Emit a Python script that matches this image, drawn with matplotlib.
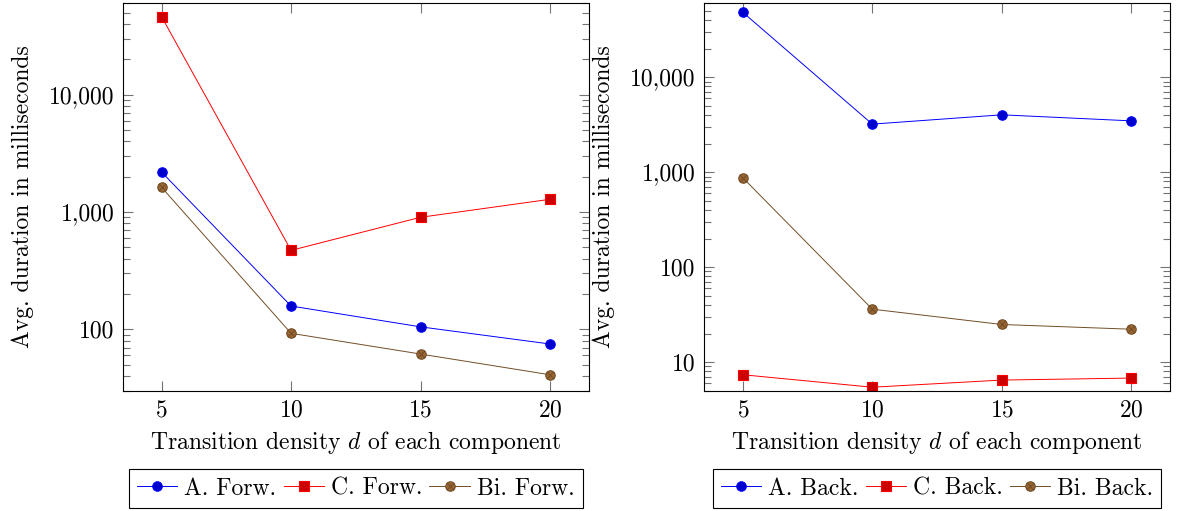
import numpy as np
import matplotlib
matplotlib.use("Agg")
import matplotlib.pyplot as plt
from matplotlib.path import Path
from matplotlib.ticker import FixedLocator, LogLocator, FuncFormatter, NullFormatter

# ---- data ----
densities = [5, 10, 15, 20]

a_forw = [2190, 158, 105, 75]
c_forw = [46200, 471, 901, 1283]
bi_forw = [1624, 92.5, 61.6, 41]

a_back = [48200, 3206, 4017, 3470]
c_back = [7.36, 5.44, 6.47, 6.79]
bi_back = [873, 36.1, 24.9, 22.2]

left_labels = ["A. Forw.", "C. Forw.", "Bi. Forw."]
right_labels = ["A. Back.", "C. Back.", "Bi. Back."]
xlabel = "Transition density $d$ of each component"
ylabel = "Avg. duration in milliseconds"

# ---- style ----
plt.rcParams["font.family"] = ["cmr10"]
plt.rcParams["mathtext.fontset"] = "cm"
plt.rcParams["axes.formatter.use_mathtext"] = True
plt.rcParams["axes.unicode_minus"] = False

FS = 17
LW = 0.7
MS = 6.8

# otimes marker: circle + cross
circ = Path.unit_circle()
d = np.sqrt(0.5)
cross = Path([(-d, -d), (d, d), (-d, d), (d, -d)],
             [Path.MOVETO, Path.LINETO, Path.MOVETO, Path.LINETO])
otimes = Path.make_compound_path(circ, cross)

styles = [
    dict(color="#0000ff", marker="o", markerfacecolor="#0000cc", markeredgecolor="#0000ff"),
    dict(color="#ff0000", marker="s", markerfacecolor="#cc0000", markeredgecolor="#ff0000"),
    dict(color="#734d26", marker=otimes, markerfacecolor="#996633", markeredgecolor="#734d26"),
]

fig = plt.figure(figsize=(11.81, 5.11), dpi=100)

H = 511.0
W = 1181.0
bottom = 1 - 390.7 / H
height = (390.7 - 3.3) / H
ax1 = fig.add_axes([122.7 / W, bottom, 466.2 / W, height])
ax2 = fig.add_axes([704.0 / W, bottom, 466.0 / W, height])


def fmt(v, pos):
    return "{:,.0f}".format(v)


def setup(ax, series, labels, ylim, majors):
    for s, lab, st in zip(series, labels, styles):
        ax.plot(densities, s, label=lab, linewidth=LW, markersize=MS,
                markeredgewidth=0.8, **st)
    ax.set_yscale("log")
    ax.set_xlim(3.5, 21.5)
    ax.set_ylim(*ylim)
    ax.xaxis.set_major_locator(FixedLocator(densities))
    ax.yaxis.set_major_locator(FixedLocator(majors))
    ax.yaxis.set_minor_locator(LogLocator(base=10, subs=np.arange(2, 10)))
    ax.yaxis.set_major_formatter(FuncFormatter(fmt))
    ax.yaxis.set_minor_formatter(NullFormatter())
    ax.tick_params(which="both", direction="in", top=True, right=True,
                   color="0.45", width=0.8, labelsize=FS, pad=6)
    ax.tick_params(which="major", length=7.2)
    ax.tick_params(which="minor", length=4.8)
    for sp in ax.spines.values():
        sp.set_linewidth(0.8)
        sp.set_color("black")
    ax.set_xlabel(xlabel, fontsize=FS, labelpad=6)
    ax.set_ylabel(ylabel, fontsize=FS, labelpad=11)
    leg = ax.legend(loc="center", bbox_to_anchor=(0.5, (0.044 * H - bottom * H) / (height * H)),
                    bbox_transform=ax.transAxes, ncol=3, fontsize=FS, frameon=True,
                    fancybox=False, edgecolor="black", framealpha=1,
                    handlelength=1.7, handletextpad=0.3, columnspacing=0.3,
                    borderpad=0.35, borderaxespad=0)
    leg.get_frame().set_linewidth(0.8)


setup(ax1, [a_forw, c_forw, bi_forw], left_labels, (30, 60000), [100, 1000, 10000])
setup(ax2, [a_back, c_back, bi_back], right_labels, (5, 60000), [10, 100, 1000, 10000])

fig.savefig("out.png", dpi=100)
